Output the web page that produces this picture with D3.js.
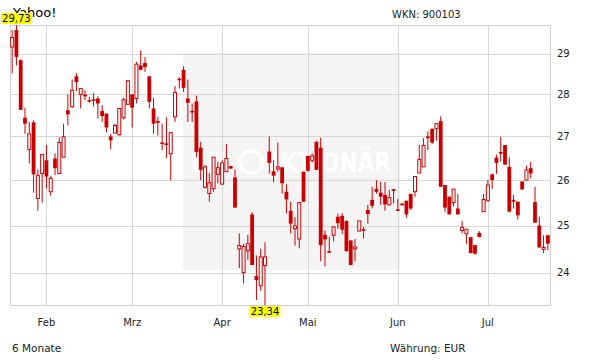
<!DOCTYPE html>
<html>
<head>
<meta charset="utf-8">
<script src="https://cdn.jsdelivr.net/npm/d3@7"></script>
<style>
  html, body { margin: 0; padding: 0; background: #fff; }
  svg { display: block; }
  text { font-family: "DejaVu Sans", Verdana, sans-serif; }
</style>
</head>
<body>
<svg id="chart" width="611" height="364"></svg>
<script>
// ---- data (trading days, mid-Jan .. end of Jul) ----
const title = "Yahoo!";
const wkn = "WKN: 900103";
const periodLabel = "6 Monate";
const currencyLabel = "Währung: EUR";

const open = [29.17,29.60,28.84,27.44,26.70,27.33,25.59,26.15,26.45,25.74,26.49,26.15,26.52,27.62,27.70,28.44,28.00,28.00,27.86,27.88,
27.90,27.60,27.54,27.00,27.08,27.04,27.44,27.76,28.00,27.90,28.71,28.77,28.44,27.66,27.36,26.86,26.84,26.60,27.46,28.38,
28.60,27.90,27.60,27.83,26.74,25.84,25.70,25.81,26.13,25.91,26.19,26.32,26.06,24.50,24.00,24.46,25.24,23.93,23.73,24.15,
26.65,26.20,26.25,26.29,25.74,25.32,24.93,24.71,26.19,26.55,26.45,26.87,26.74,24.80,24.45,24.79,25.19,25.21,25.10,24.68,
24.50,24.88,24.92,25.34,25.56,25.80,25.72,25.67,25.45,25.80,25.35,25.48,25.54,25.69,25.74,26.16,26.30,27.00,27.18,27.18,
27.36,25.89,25.63,25.50,25.37,24.89,24.82,24.75,24.58,24.84,25.30,25.54,26.13,26.51,26.64,26.80,26.30,25.56,25.52,25.97,
26.00,26.27,25.51,25.00,24.49,24.79];
const high = [29.60,29.73,28.86,27.68,27.34,27.38,26.24,26.60,26.80,26.09,26.61,26.98,27.30,28.00,28.36,28.52,28.14,28.10,27.94,28.03,
27.95,27.74,27.54,27.06,27.30,27.68,27.92,28.35,28.00,28.80,29.08,28.92,28.44,27.92,27.46,27.30,27.45,27.09,28.20,28.42,
28.69,28.36,27.78,27.97,26.87,26.34,26.15,26.52,26.41,26.45,26.82,26.32,26.24,24.83,24.61,24.80,25.29,24.36,24.50,24.64,
27.00,26.45,26.86,26.29,25.91,25.52,25.18,25.50,26.19,26.55,26.61,26.90,26.97,24.89,24.75,24.97,25.26,25.27,25.11,24.68,
24.71,25.10,24.97,25.45,25.85,26.00,25.96,25.96,25.78,25.80,25.58,25.48,25.54,25.70,26.09,26.80,26.96,27.12,27.18,27.30,
27.47,25.89,25.63,25.80,25.69,25.10,24.92,24.75,24.58,24.88,25.69,26.00,26.15,26.58,26.99,26.80,26.52,25.67,25.52,25.97,
26.33,26.41,25.85,25.19,24.79,24.79];
const low = [28.51,28.71,27.62,27.06,26.38,25.72,25.32,25.50,25.81,25.65,26.11,26.15,26.52,27.26,27.68,28.08,27.66,27.86,27.80,27.71,
27.42,27.34,27.10,26.70,27.08,27.02,27.40,27.76,27.21,27.78,28.60,28.55,27.66,27.06,27.02,26.68,26.50,25.99,27.34,28.14,
28.06,27.34,27.34,26.52,26.00,25.81,25.52,25.74,25.93,25.91,26.19,26.26,25.39,24.10,23.78,24.27,24.16,23.44,23.63,23.34,
26.15,25.95,26.19,25.70,25.26,24.83,24.57,24.51,25.52,26.19,26.40,26.23,24.24,24.13,24.42,24.66,24.93,24.81,24.45,24.16,
24.24,24.88,24.72,25.04,25.37,25.70,25.45,25.32,25.45,25.48,25.32,25.44,25.17,25.34,25.63,26.16,26.30,26.68,26.82,26.90,
25.85,25.29,25.24,25.41,25.24,24.83,24.60,24.41,24.37,24.75,25.30,25.54,25.81,26.14,26.42,26.35,25.30,25.37,25.13,25.79,
26.00,26.04,25.06,24.53,24.41,24.47];
const close = [29.41,28.92,27.63,27.30,27.06,26.13,26.11,26.58,26.08,26.04,26.27,26.86,26.99,27.52,28.10,28.30,28.14,27.95,27.83,27.85,
27.78,27.48,27.21,26.91,27.26,27.66,27.87,28.33,27.68,28.74,28.60,28.67,27.82,27.30,27.32,26.83,26.80,27.09,28.04,28.36,
28.16,27.80,27.58,26.64,26.23,26.30,25.94,26.52,26.28,26.39,26.49,26.26,25.39,24.57,24.55,24.61,24.16,23.85,24.33,24.33,
26.39,26.10,26.30,25.93,25.57,25.04,24.99,25.50,25.52,26.21,26.55,26.23,24.58,24.70,24.42,24.97,25.05,24.91,24.45,24.16,
24.54,25.10,24.89,25.25,25.43,25.74,25.63,25.46,25.61,25.76,25.32,25.44,25.24,25.37,26.08,26.47,26.79,26.96,26.86,27.30,
25.85,25.39,25.24,25.80,25.24,24.96,24.92,24.41,24.40,24.75,25.57,25.89,26.00,26.39,26.60,26.35,25.30,25.52,25.22,25.79,
26.23,26.15,25.06,24.53,24.53,24.61];

const monthLabels = ["Feb","Mrz","Apr","Mai","Jun","Jul"];
const monthStartDay = [8, 28, 49, 69, 90, 111];   // index of first trading day of each month
const yTicks = [24, 25, 26, 27, 28, 29];

// ---- layout ----
const svg = d3.select("#chart");
const L = 10, R = 550, T = 25, B = 305;
const red = "#cc0000";
const n = open.length;

const x = d3.scaleBand().domain(d3.range(n)).range([L, R]).padding(0);
const cx = i => x(i) + x.bandwidth() / 2;
const yMin = d3.min(low), yMax = d3.max(high);
const y = d3.scaleLog().domain([yMin, yMax]).range([B, T]);

// watermark panel
svg.append("rect").attr("x", 183).attr("y", 53).attr("width", 217).attr("height", 217)
  .attr("fill", "#f4f4f4");
const wm = svg.append("g").attr("fill", "#ffffff").attr("font-weight", "bold");
wm.append("text").attr("x", 191).attr("y", 172).attr("font-size", 27).attr("textLength", 42).attr("lengthAdjust","spacingAndGlyphs").text("DER");
wm.append("circle").attr("cx", 251).attr("cy", 162).attr("r", 11).attr("fill", "none").attr("stroke", "#fff").attr("stroke-width", 4);
wm.append("text").attr("x", 264).attr("y", 172).attr("font-size", 27).attr("textLength", 127).attr("lengthAdjust","spacingAndGlyphs").text("AKTIONÄR");

// grid
const grid = svg.append("g").attr("stroke", "#d6d6d6").attr("stroke-width", 1).attr("shape-rendering", "crispEdges");
yTicks.forEach(v => {
  const yy = Math.round(y(v)) + 0.5;
  grid.append("line").attr("x1", L).attr("x2", R).attr("y1", yy).attr("y2", yy);
});
monthStartDay.forEach(i => {
  const xx = Math.round(cx(i)) + 0.5;
  grid.append("line").attr("x1", xx).attr("x2", xx).attr("y1", T).attr("y2", B);
});
svg.append("rect").attr("x", L + 0.5).attr("y", T + 0.5).attr("width", R - L).attr("height", B - T)
  .attr("fill", "none").attr("stroke", "#cfcfcf").attr("shape-rendering", "crispEdges");

// right axis labels
const yAxis = d3.axisRight(y).tickValues(yTicks).tickSize(0).tickPadding(7).tickFormat(d3.format("d"));
const ya = svg.append("g").attr("transform", `translate(${R},0)`).call(yAxis);
ya.select(".domain").remove();
ya.selectAll("text").attr("font-size", 10).attr("fill", "#222").attr("font-family", "DejaVu Sans");

// month labels
const xa = svg.append("g");
monthStartDay.forEach((i, k) => {
  xa.append("text").attr("x", cx(i)).attr("y", 326).attr("text-anchor", "middle")
    .attr("font-size", 10).attr("fill", "#222").text(monthLabels[k]);
});

// candles
const c = svg.append("g");
d3.range(n).forEach(i => {
  const xc = cx(i);
  const up = close[i] >= open[i];
  c.append("line").attr("x1", xc).attr("x2", xc).attr("y1", y(high[i])).attr("y2", y(low[i]))
    .attr("stroke", red).attr("stroke-width", 1);
  const top = y(Math.max(open[i], close[i])), bot = y(Math.min(open[i], close[i]));
  if (up) {
    c.append("rect").attr("x", xc - 1.5).attr("y", top).attr("width", 3).attr("height", Math.max(bot - top, 1))
      .attr("fill", "#fff").attr("stroke", red).attr("stroke-width", 1);
  } else {
    c.append("rect").attr("x", xc - 1.9).attr("y", top).attr("width", 3.8).attr("height", Math.max(bot - top, 1.5))
      .attr("fill", red);
  }
});

// title texts
svg.append("text").attr("x", 13).attr("y", 17).attr("font-size", 13).attr("fill", "#000").text(title);
svg.append("text").attr("x", 392).attr("y", 18).attr("font-size", 10).attr("fill", "#222").text(wkn);
svg.append("text").attr("x", 12).attr("y", 352).attr("font-size", 10.5).attr("fill", "#222").text(periodLabel);
svg.append("text").attr("x", 390).attr("y", 352).attr("font-size", 10.5).attr("fill", "#222").text(currencyLabel);

// max / min markers
const fmt = v => d3.format(".2f")(v).replace(".", ",");
const iMax = d3.maxIndex(high), iMin = d3.minIndex(low);
function marker(i, v, yTop) {
  const g = svg.append("g");
  const t = g.append("text").attr("x", cx(i)).attr("y", yTop + 9).attr("text-anchor", "middle")
    .attr("font-size", 10).attr("fill", "#000").text(fmt(v));
  const w = t.node().getComputedTextLength() + 2;
  g.insert("rect", "text").attr("x", cx(i) - w / 2).attr("y", yTop).attr("width", w).attr("height", 11).attr("fill", "#ffff00");
}
marker(iMax, high[iMax], 13);
marker(iMin, low[iMin], 306);
</script>
</body>
</html>
